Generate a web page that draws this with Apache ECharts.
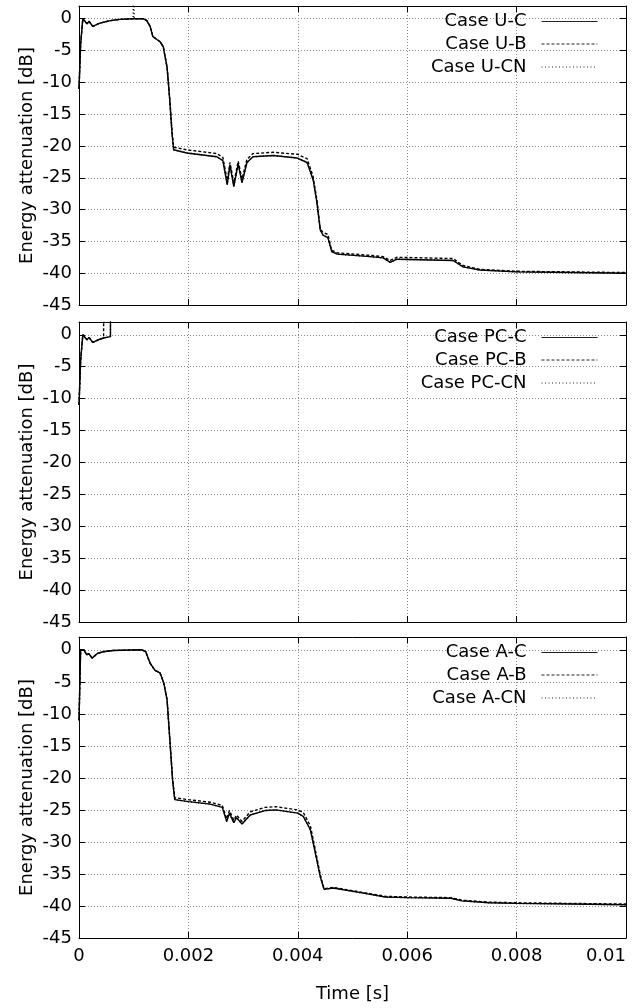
<!DOCTYPE html>
<html><head><meta charset="utf-8">
<script src="https://cdn.jsdelivr.net/npm/echarts@6/dist/echarts.min.js"></script>
<style>html,body{margin:0;padding:0;background:#fff}#c{width:637px;height:1008px}</style>
</head><body><div id="c"></div>
<script>
// ---- data (time in s, attenuation in dB) ----
const xTicks = [0, 0.002, 0.004, 0.006, 0.008, 0.01];
const yTicks = [0, -5, -10, -15, -20, -25, -30, -35, -40, -45];

const namesU = ['Case U-C', 'Case U-B', 'Case U-CN'];
const timeU = [0, 0.00003, 0.00007, 0.00011, 0.000146, 0.000183, 0.00025, 0.00038, 0.00057, 0.00075,
  0.00099, 0.001, 0.00101, 0.00117, 0.00124, 0.0013, 0.00135, 0.00143, 0.00148, 0.00154,
  0.00161, 0.00166, 0.0017, 0.00173, 0.00197, 0.00252, 0.00263, 0.00271, 0.00276, 0.00283,
  0.00291, 0.00298, 0.00307, 0.00318, 0.00355, 0.00399, 0.00417, 0.00428, 0.00435, 0.00441,
  0.00446, 0.00455, 0.00462, 0.00472, 0.00532, 0.00556, 0.00569, 0.00581, 0.00684, 0.00702,
  0.00733, 0.008, 0.009, 0.01];
const uC = [-11, -4, 0, -0.4, -0.8, -0.4, -1.2, -0.7, -0.3, -0.1,
  0, 0, 0, 0, -0.3, -1.2, -2.8, -3.3, -3.6, -4.4,
  -7.6, -12.9, -18, -20.6, -21.1, -21.7, -22.3, -26.1, -23, -26.4,
  -22.8, -25.8, -22.6, -21.7, -21.5, -21.9, -22.6, -25.3, -28.9, -33.2,
  -34, -34.4, -36.6, -37, -37.4, -37.6, -38.3, -37.8, -38, -39,
  -39.5, -39.8, -39.9, -40];
const uB = [-11, -4, 0, -0.4, -0.8, -0.4, -1.2, -0.7, -0.3, -0.1,
  0, 0, 0, 0, -0.3, -1.2, -2.8, -3.3, -3.6, -4.4,
  -7.6, -12.7, -17.6, -20.2, -20.6, -21.2, -21.8, -25.4, -22.6, -25.8,
  -22.4, -25.2, -22.1, -21.2, -21.0, -21.3, -22.0, -24.8, -28.5, -33.0,
  -33.6, -33.9, -36.4, -36.8, -37.2, -37.4, -38.0, -37.5, -37.7, -38.8,
  -39.4, -39.7, -39.8, -39.9];
const uCN = [-11, -4, 0, -0.4, -0.8, -0.4, -1.2, -0.7, -0.3, -0.1,
  0, 8, 0, 0, -0.3, -1.2, -2.8, -3.3, -3.6, -4.4,
  -7.6, -12.9, -18, -20.6, -21.1, -21.7, -22.3, -26.0, -23, -26.3,
  -22.8, -25.7, -22.6, -21.7, -21.5, -21.9, -22.6, -25.3, -28.9, -33.2,
  -34, -34.4, -36.6, -37, -37.4, -37.6, -38.3, -37.8, -38, -39,
  -39.5, -39.8, -39.9, -40];

const namesPC = ['Case PC-C', 'Case PC-B', 'Case PC-CN'];
const timePC = [0, 0.00003, 0.00007, 0.00011, 0.000146, 0.000183, 0.00025, 0.00038, 0.00045, 0.00046, 0.000575, 0.00058];
const pcC  = [-11, -4, 0, -0.4, -0.8, -0.4, -1.2, -0.7, -0.5, -0.5, -0.3, 80];
const pcB  = [-11, -4, 0, -0.4, -0.8, -0.4, -1.2, -0.7, -0.5, 80, null, null];
const pcCN = [-11, -4, 0, -0.4, -0.8, -0.4, -1.2, -0.7, -0.5, -0.5, -0.3, 80];

const namesA = ['Case A-C', 'Case A-B', 'Case A-CN'];
const timeA = [0, 0.00003, 0.00009, 0.00014, 0.00018, 0.00024, 0.00033, 0.00044, 0.00062, 0.00115,
  0.00122, 0.0013, 0.00139, 0.00148, 0.00155, 0.00161, 0.00166, 0.00171, 0.00175, 0.002,
  0.0024, 0.00262, 0.0027, 0.00275, 0.00283, 0.00288, 0.00298, 0.00313, 0.0034, 0.0036,
  0.004, 0.0041, 0.00423, 0.00432, 0.00441, 0.00448, 0.00465, 0.0052, 0.0056, 0.006,
  0.0068, 0.007, 0.0075, 0.008, 0.009, 0.01];
const aC = [-11, 0, 0, -0.8, -0.6, -1.3, -0.6, -0.3, -0.1, 0,
  -0.3, -2.1, -3.2, -3.6, -5.2, -7.8, -14, -20.3, -23.4, -23.7,
  -24.1, -24.6, -26.8, -25.5, -27.0, -26.2, -27.2, -25.8, -25.1, -25.0,
  -25.5, -26.0, -28.1, -31.7, -35.4, -37.4, -37.2, -38.0, -38.6, -38.7,
  -38.8, -39.2, -39.5, -39.6, -39.7, -39.8];
const aB = [-11, 0, 0, -0.8, -0.6, -1.3, -0.6, -0.3, -0.1, 0,
  -0.3, -2.1, -3.2, -3.6, -5.2, -7.8, -13.8, -20.0, -23.1, -23.4,
  -23.8, -24.3, -26.4, -25.1, -26.6, -25.8, -26.8, -25.3, -24.6, -24.5,
  -25.0, -25.4, -27.5, -31.2, -35.1, -37.3, -37.1, -37.9, -38.5, -38.6,
  -38.7, -39.1, -39.4, -39.5, -39.6, -39.7];
const aCN = [-11, 0, 0, -0.8, -0.6, -1.3, -0.6, -0.3, -0.1, 0,
  -0.3, -2.1, -3.2, -3.6, -5.2, -7.8, -14, -20.3, -23.4, -23.7,
  -24.1, -24.6, -26.8, -25.5, -27.0, -26.2, -27.2, -25.8, -25.1, -25.0,
  -25.5, -26.0, -28.1, -31.7, -35.4, -37.4, -37.2, -38.0, -38.6, -38.7,
  -38.8, -39.2, -39.5, -39.6, -39.7, -39.8];

const panels = [
  { names: namesU, t: timeU, v: [uC, uB, uCN] },
  { names: namesPC, t: timePC, v: [pcC, pcB, pcCN] },
  { names: namesA, t: timeA, v: [aC, aB, aCN] }
];

// ---- layout / style ----
const FONT = 'DejaVu Sans';
const gridBoxes = [{ top: 6, height: 299 }, { top: 322, height: 300 }, { top: 637, height: 301 }];
const legendRows = [15.5, 38, 61];
const dashTypes = ['solid', [3, 2], [1, 2.5]];
const black = '#000';

const grid = [], xAxis = [], yAxis = [], series = [], legend = [];
const xMin = xTicks[0], xMax = xTicks[xTicks.length - 1], xInt = xTicks[1] - xTicks[0];
const yMin = yTicks[yTicks.length - 1], yInt = yTicks[0] - yTicks[1];

gridBoxes.forEach((g, i) => {
  grid.push({ left: 79, right: 11, top: g.top, height: g.height, show: false });
});
// bottom x axes
gridBoxes.forEach((g, i) => {
  xAxis.push({
    gridIndex: i, type: 'value', min: xMin, max: xMax, interval: xInt, position: 'bottom',
    axisLine: { show: true, onZero: false, lineStyle: { color: black, width: 1 } },
    axisTick: { show: true, inside: true, length: 6, lineStyle: { color: black } },
    axisLabel: { show: i === 2, fontSize: 18, fontFamily: FONT, color: black, margin: 9, alignMaxLabel: 'right' },
    splitLine: { show: true, lineStyle: { color: '#888', type: [1, 2], width: 1 } },
    name: i === 2 ? 'Time [s]' : '', nameLocation: 'middle', nameGap: 47, nameMoveOverlap: false,
    nameTextStyle: { fontSize: 18, fontFamily: FONT, color: black }
  });
});
// top mirror x axes
gridBoxes.forEach((g, i) => {
  xAxis.push({
    gridIndex: i, type: 'value', min: xMin, max: xMax, interval: xInt, position: 'top',
    axisLine: { show: true, onZero: false, lineStyle: { color: black, width: 1 } },
    axisTick: { show: true, inside: true, length: 6, lineStyle: { color: black } },
    axisLabel: { show: false }, splitLine: { show: false }
  });
});
// left y axes
gridBoxes.forEach((g, i) => {
  yAxis.push({
    gridIndex: i, type: 'value', min: yMin, max: 2, interval: yInt, position: 'left',
    axisLine: { show: true, onZero: false, lineStyle: { color: black, width: 1 } },
    axisTick: { show: true, inside: true, length: 6, lineStyle: { color: black } },
    axisLabel: { fontSize: 18, fontFamily: FONT, color: black, margin: 7,
      formatter: v => (v > 0.5 ? '' : String(v)) },
    splitLine: { show: true, lineStyle: { color: '#888', type: [1, 2], width: 1 } },
    name: 'Energy attenuation [dB]', nameLocation: 'middle', nameGap: 43, nameRotate: 90,
    nameMoveOverlap: false,
    nameTextStyle: { fontSize: 18, fontFamily: FONT, color: black }
  });
});
// right mirror y axes
gridBoxes.forEach((g, i) => {
  yAxis.push({
    gridIndex: i, type: 'value', min: yMin, max: 2, interval: yInt, position: 'right',
    axisLine: { show: true, onZero: false, lineStyle: { color: black, width: 1 } },
    axisTick: { show: true, inside: true, length: 6, lineStyle: { color: black } },
    axisLabel: { show: false }, splitLine: { show: false }
  });
});

panels.forEach((p, i) => {
  p.names.forEach((name, j) => {
    const data = [];
    p.t.forEach((t, k) => { if (p.v[j][k] !== null) data.push([t, p.v[j][k]]); });
    series.push({
      name, type: 'line', xAxisIndex: i, yAxisIndex: i, data,
      showSymbol: false, symbol: 'none', clip: true, animation: false,
      lineStyle: { color: black, width: 1.4, type: dashTypes[j] },
      itemStyle: { color: black }, z: 3 + j
    });
    legend.push({
      data: [name], orient: 'vertical', right: 39, top: gridBoxes[i].top + legendRows[j] - 9,
      align: 'right', itemWidth: 56, itemHeight: 12, padding: 0, selectedMode: false,
      itemStyle: { opacity: 0, borderWidth: 0 },
      lineStyle: { width: 1, color: '#222', type: dashTypes[j] },
      textStyle: { fontSize: 18, fontFamily: FONT, color: black, padding: [0, 10, 0, 0] }
    });
  });
});

const chart = echarts.init(document.getElementById('c'), null, { renderer: 'canvas' });
chart.setOption({ animation: false, backgroundColor: '#fff', grid, xAxis, yAxis, series, legend });
</script></body></html>
